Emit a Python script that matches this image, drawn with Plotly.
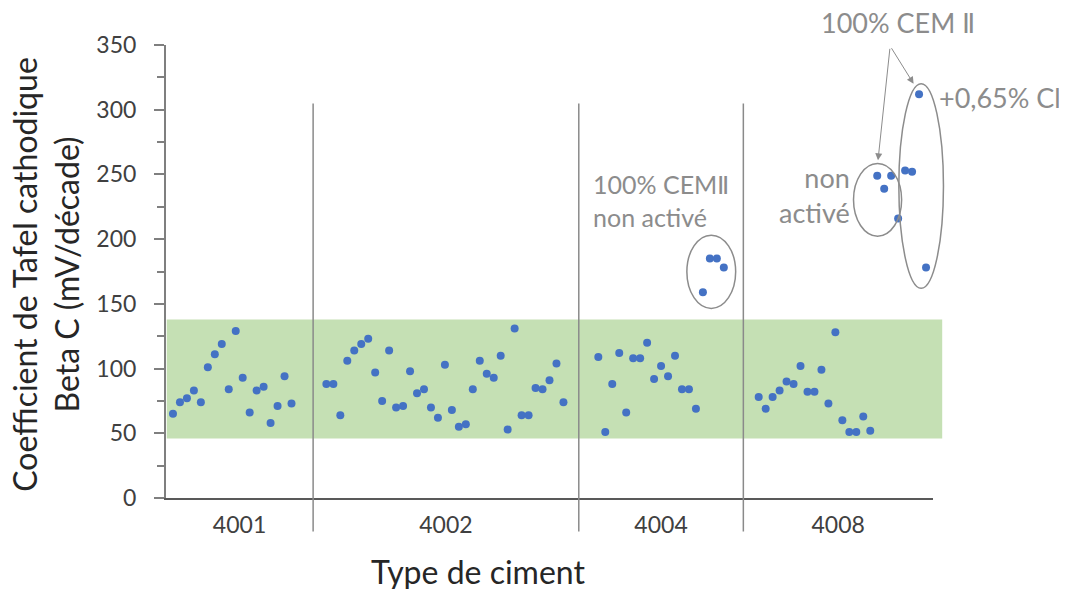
import plotly.graph_objects as go

# Beta C values (mV/décade) per cement type
group_labels = ["4001", "4002", "4004", "4008"]
beta_4001 = [65, 74, 77, 83, 74, 101, 111, 119, 84, 129, 93, 66, 83, 86, 58, 71, 94, 73]
beta_4002 = [88, 88, 64, 106, 114, 119, 123, 97, 75, 114, 70, 71, 98, 81, 84, 70, 62, 103,
             68, 55, 57, 84, 106, 96, 93, 110, 53, 131, 64, 64, 85, 84, 91, 104, 74]
beta_4004 = [109, 51, 88, 112, 66, 108, 108, 120, 92, 102, 94, 110, 84, 84, 69,
             159, 185, 185, 178]
beta_4008 = [78, 69, 78, 83, 90, 88, 102, 82, 82, 99, 73, 128, 60, 51, 51, 63, 52,
             249, 239, 249, 216, 253, 252, 312, 178]
band_low, band_high = 46, 138

# category slot layout (index units on the x axis)
n_slots = 110
group_bounds = [0, 21.1, 59.2, 82.8, n_slots]
group_starts = [1, 23, 62, 85]

FONT = "Lato"
GRAY = "#8c8c8c"

fig = go.Figure()

# green "normal range" band
fig.add_shape(type="rect", xref="paper", yref="y", x0=0.001, x1=1.012,
              y0=band_low, y1=band_high, fillcolor="rgb(197,224,180)",
              line_width=0, layer="below")

# group separators
for b in group_bounds[1:-1]:
    fig.add_shape(type="line", xref="paper", yref="paper", x0=b / n_slots, x1=b / n_slots,
                  y0=-0.074, y1=0.871, line=dict(color="#8a8a8a", width=1.5))

xs, ys = [], []
for start, vals in zip(group_starts, [beta_4001, beta_4002, beta_4004, beta_4008]):
    xs += [start + i for i in range(len(vals))]
    ys += vals

fig.add_trace(go.Scatter(x=xs, y=ys, mode="markers",
                         marker=dict(size=8, color="#4472C4"),
                         showlegend=False, hoverinfo="y"))

# ellipses around the special batches
for x0, x1, y0, y1 in [(74.7, 81.7, 146.5, 203.1),
                       (98.6, 105.5, 202.3, 258.4),
                       (105.1, 111.5, 162.0, 320.1)]:
    fig.add_shape(type="circle", xref="paper", yref="y",
                  x0=x0 / n_slots, x1=x1 / n_slots, y0=y0, y1=y1,
                  line=dict(color=GRAY, width=1.5))

mids = [(a + b) / 2 for a, b in zip(group_bounds[:-1], group_bounds[1:])]

fig.update_xaxes(range=[0, n_slots], tickvals=mids, ticktext=group_labels, ticks="",
                 showline=True, linecolor="#595959", linewidth=2, showgrid=False,
                 zeroline=False, ticklabelstandoff=5,
                 tickfont=dict(family=FONT, size=23, color="#404040"))
fig.update_yaxes(range=[0, 350], dtick=50, ticks="outside", ticklen=10, tickwidth=1.5,
                 tickcolor="#7f7f7f", showline=True, linecolor="#7f7f7f", linewidth=2,
                 showgrid=False, zeroline=False, ticklabelstandoff=13,
                 minor=dict(dtick=25, ticks="outside", ticklen=7, tickwidth=1.5,
                            tickcolor="#7f7f7f"),
                 tickfont=dict(family=FONT, size=23, color="#404040"))

ann_font = dict(family=FONT, size=27, color=GRAY)
fig.add_annotation(text="100% CEMⅡ<br>non activé", xref="x", yref="y", x=60.9, y=230,
                   xanchor="left", yanchor="middle", align="left", showarrow=False,
                   font=dict(family=FONT, size=25, color=GRAY))
fig.add_annotation(text="non<br>activé", xref="x", yref="y", x=98.4, y=234,
                   xanchor="right", yanchor="middle", align="right", showarrow=False,
                   font=ann_font)
fig.add_annotation(text="+0,65% Cl", xref="paper", yref="paper", x=1.005, y=0.884,
                   xanchor="left", yanchor="middle", showarrow=False, font=ann_font)
fig.add_annotation(text="100% CEM Ⅱ", xref="paper", yref="paper", x=0.955, y=1.05,
                   xanchor="center", yanchor="middle", showarrow=False, font=ann_font)
for hx, hy, ax, ay in [(0.9283, 0.7454, 12, -113), (0.9747, 0.9145, -23, -37)]:
    fig.add_annotation(text="", xref="paper", yref="paper", x=hx, y=hy, ax=ax, ay=ay,
                       showarrow=True, arrowhead=2, arrowsize=1.4, arrowwidth=1,
                       arrowcolor=GRAY)

title_font = dict(family=FONT, size=32, color="#262626")
fig.add_annotation(text="Coefficient de Tafel cathodique<br>Beta C (mV/décade)",
                   xref="paper", yref="paper", x=-0.157, y=0.492, textangle=-90,
                   xanchor="center", yanchor="middle", showarrow=False, font=title_font)
fig.add_annotation(text="Type de ciment", xref="paper", yref="paper", x=0.407, y=-0.163,
                   xanchor="center", yanchor="middle", showarrow=False, font=title_font)

# the page adds an 8 px body margin, so the figure is sized to fit the window
fig.update_layout(width=1059, height=581, plot_bgcolor="white", paper_bgcolor="white",
                  margin=dict(l=158, r=134, t=36.5, b=91), showlegend=False)

fig.write_html("out.html")
